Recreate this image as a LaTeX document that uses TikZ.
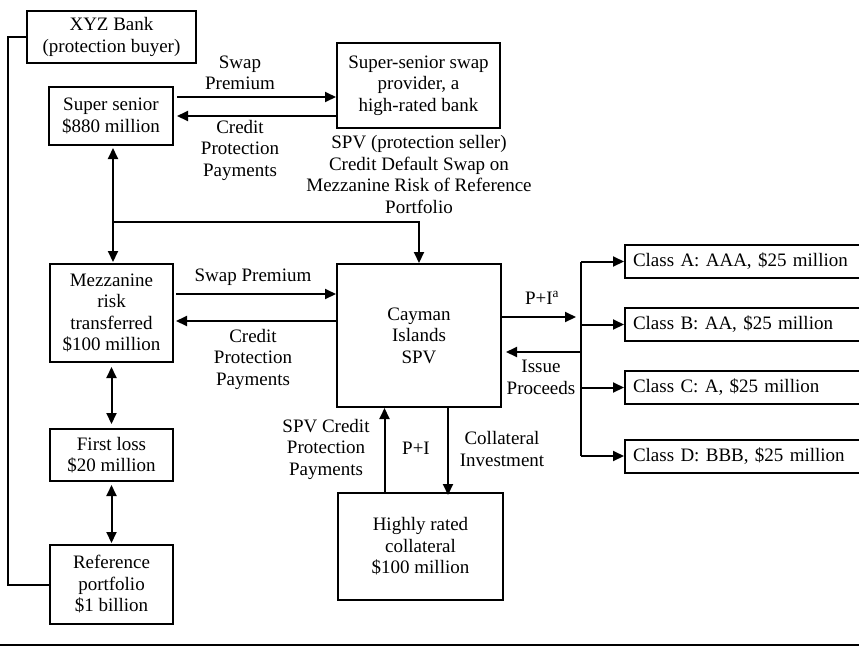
\documentclass[tikz,border=0pt]{standalone}
\usepackage{fontspec}
\setmainfont{Liberation Serif}
\usetikzlibrary{arrows.meta}
\begin{document}
\begin{tikzpicture}[x=1pt,y=-1pt,
  every node/.style={font=\fontsize{19pt}{21.5pt}\selectfont, text=black},
  box/.style={draw, line width=2pt, inner sep=0pt, align=center},
  lab/.style={align=center, inner sep=0pt},
  cls/.style={draw, line width=2pt, anchor=west, minimum height=33pt, text width=222pt, align=left, inner xsep=8pt, inner ysep=0pt},
  ln/.style={line width=2pt},
  arr/.style={ln, -{Triangle[length=11pt,width=10pt]}},
  arrb/.style={ln, {Triangle[length=11pt,width=10pt]}-{Triangle[length=11pt,width=10pt]}}
]
\useasboundingbox (0,0) rectangle (859,646);

% boxes
\node[box, minimum width=169pt, minimum height=52pt] (xyz) at (111.5,37) {XYZ Bank\\(protection buyer)};
\node[box, minimum width=124pt, minimum height=58pt] (ss) at (111,116) {Super senior\\\$880 million};
\node[box, minimum width=163pt, minimum height=85pt] (prov) at (418.5,85.5) {Super-senior swap\\provider, a\\high-rated bank};
\node[box, minimum width=123pt, minimum height=98pt] (mezz) at (111.5,313) {Mezzanine\\risk\\transferred\\\$100 million};
\node[box, minimum width=164pt, minimum height=143pt] (cay) at (419,335.5) {Cayman\\Islands\\SPV};
\node[box, minimum width=123pt, minimum height=52pt] (first) at (111.5,455) {First loss\\\$20 million};
\node[box, minimum width=123pt, minimum height=79pt] (ref) at (111.5,584.5) {Reference\\portfolio\\\$1 billion};
\node[box, minimum width=165pt, minimum height=107pt] (coll) at (420.5,546.5) {Highly rated\\collateral\\\$100 million};

\node[cls] (ca) at (624,261.5) {Class A: AAA, \$25 million};
\node[cls] (cb) at (624,324.5) {Class B: AA, \$25 million};
\node[cls] (cc) at (624,387.5) {Class C: A, \$25 million};
\node[cls] (cd) at (624,456) {Class D: BBB, \$25 million};

% labels
\node[lab] (l1) at (240,73) {Swap\\Premium};
\node[lab] (l2) at (240,150) {Credit\\Protection\\Payments};
\node[lab] (l3) at (419,174.5) {SPV (protection seller)\\Credit Default Swap on\\Mezzanine Risk of Reference\\Portfolio};
\node[lab] (l4) at (253,277) {Swap Premium};
\node[lab] (l5) at (253,359) {Credit\\Protection\\Payments};
\node[lab] (l6) at (326,449) {SPV Credit\\Protection\\Payments};
\node[lab] (l7) at (416,448) {P+I};
\node[lab] (l8) at (502,449) {Collateral\\Investment};
\node[lab] (l9) at (542,298) {P+I\textsuperscript{a}};
\node[lab] (l10) at (541,377.5) {Issue\\Proceeds};

% left frame line
\coordinate (lt) at (8,37);
\draw[ln] (xyz.west) -- (lt) |- (ref.west);

% super senior <-> provider
\coordinate (a1) at ([yshift=19pt]ss.east);
\draw[arr] ([xshift=3pt]a1) -- (a1 -| prov.west);
\draw[arr] (ss.east -| prov.west) -- ([xshift=3pt]ss.east);

% vertical ss - mezz and branch to cayman
\coordinate (j) at (113,222);
\draw[arr] (j) -- (113,148);
\draw[arr] (j) -- (113,262);
\draw[arr] (j) -| (cay.north);

% mezz <-> cayman
\coordinate (b1) at ([yshift=19pt]mezz.east);
\coordinate (b2) at ([yshift=-8pt]mezz.east);
\draw[arr] ([xshift=2pt]b1) -- (b1 -| cay.west);
\draw[arr] (b2 -| cay.west) -- ([xshift=2pt]b2);

% stack
\draw[arrb] ([yshift=-4pt]mezz.south) -- ([yshift=4pt]first.north);
\draw[arrb] ([yshift=-3pt]first.south) -- ([yshift=1pt]ref.north);

% collateral
\coordinate (c1) at ([xshift=-36pt]coll.north);
\coordinate (c2) at ([xshift=29pt]cay.south);
\draw[arr] (c1) -- (c1 |- cay.south);
\draw[arr] (c2) -- ([yshift=-3pt]c2 |- coll.north);

% bus to classes
\coordinate (bt) at (581,261.5);
\coordinate (bb) at (581,456);
\coordinate (pi) at ([yshift=18.5pt]cay.east);
\coordinate (ip) at ([yshift=-16.5pt]cay.east);
\draw[arr] (pi) -- (576,317);
\draw[arr] (bt |- ip) -- ([xshift=4pt]ip);
\draw[ln] (bt) -- (bb);
\draw[arr] (bt) -- (ca.west);
\draw[arr] (bt |- cb.west) -- (cb.west);
\draw[arr] (bt |- cc.west) -- (cc.west);
\draw[arr] (bb) -- (cd.west);

% bottom rule
\coordinate (r1) at (0,645);
\coordinate (r2) at (859,645);
\draw[ln] (r1) -- (r2);
\end{tikzpicture}
\end{document}
